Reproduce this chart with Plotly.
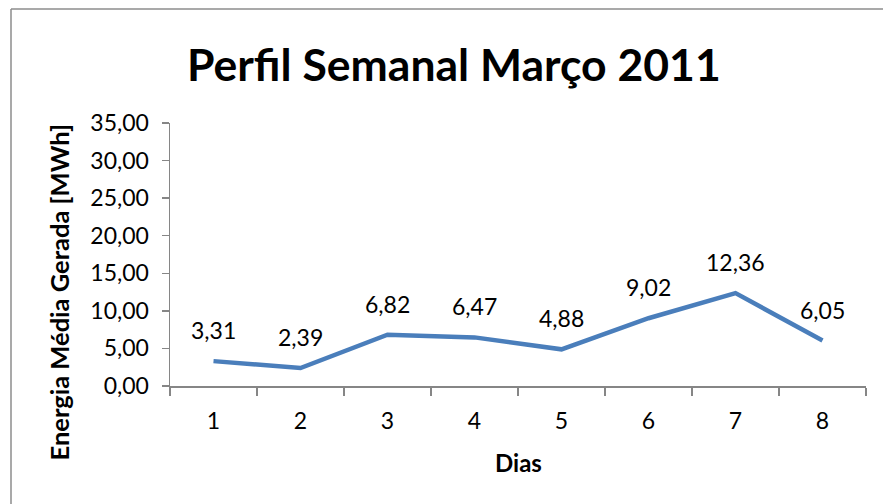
import plotly.graph_objects as go

dias = ["1", "2", "3", "4", "5", "6", "7", "8"]
energia = [3.31, 2.39, 6.82, 6.47, 4.88, 9.02, 12.36, 6.05]
y_ticks = [0, 5, 10, 15, 20, 25, 30, 35]

title_text = "Perfil Semanal Março 2011"
x_title = "Dias"
y_title = "Energia Média Gerada [MWh]"

FONT = "Lato"

fig = go.Figure()
fig.add_trace(go.Scatter(
    x=dias, y=energia, mode="lines",
    line=dict(color="#4A7EBB", width=4.5),
    hoverinfo="skip", showlegend=False,
))

for i, v in enumerate(energia):
    fig.add_annotation(
        x=i, y=v, text=f"{v:.2f}".replace(".", ","),
        showarrow=False, yshift=31,
        font=dict(family=FONT, size=23, color="#000000"),
    )

fig.add_annotation(
    xref="paper", yref="paper", x=284 / 696, y=1.0, yshift=60,
    text=f"<b>{title_text}</b>", showarrow=False,
    font=dict(family=FONT, size=44.5, color="#000000"),
    xanchor="center", yanchor="middle",
)
fig.add_annotation(
    xref="paper", yref="paper", x=0.5, y=0, yshift=-76,
    text=f"<b>{x_title}</b>", showarrow=False,
    font=dict(family=FONT, size=24, color="#000000"),
    xanchor="center", yanchor="middle",
)
fig.add_annotation(
    xref="paper", yref="paper", x=0, xshift=-112, y=0.5, yshift=-38,
    text=f"<b>{y_title}</b>", showarrow=False, textangle=-90,
    font=dict(family=FONT, size=25.5, color="#000000"),
    xanchor="center", yanchor="middle",
)

# chart border (top and left visible in frame)
fig.add_shape(type="line", xref="paper", yref="paper",
              x0=-159 / 696, x1=1.5, y0=1 + 114 / 263, y1=1 + 114 / 263,
              line=dict(color="#8C8C8C", width=1.5))
fig.add_shape(type="line", xref="paper", yref="paper",
              x0=-159 / 696, x1=-159 / 696, y0=1 + 114 / 263, y1=-1,
              line=dict(color="#8C8C8C", width=1.5))

fig.update_layout(
    width=883, height=504,
    margin=dict(l=170, r=17, t=123, b=118),
    paper_bgcolor="white", plot_bgcolor="white",
    separators=",.",
    font=dict(family=FONT, size=23, color="#000000"),
    xaxis=dict(
        type="category", tickson="boundaries", range=[-0.5, 7.5],
        ticks="outside", ticklen=8, tickcolor="#868686", tickwidth=1.5,
        showline=True, linecolor="#868686", linewidth=1.5,
        showgrid=False, zeroline=False,
        tickfont=dict(family=FONT, size=23),
        ticklabelstandoff=14,
    ),
    yaxis=dict(
        range=[0, 35], tickvals=y_ticks, tickformat=".2f",
        ticks="outside", ticklen=7, tickcolor="#868686", tickwidth=1.5,
        showline=True, linecolor="#868686", linewidth=1.5,
        showgrid=False, zeroline=False,
        tickfont=dict(family=FONT, size=23),
        ticklabelstandoff=8,
    ),
)

fig.write_html(
    "out.html",
    config={"displayModeBar": False, "staticPlot": True},
    post_script="document.body.style.margin='0';document.body.style.overflow='hidden';",
)
